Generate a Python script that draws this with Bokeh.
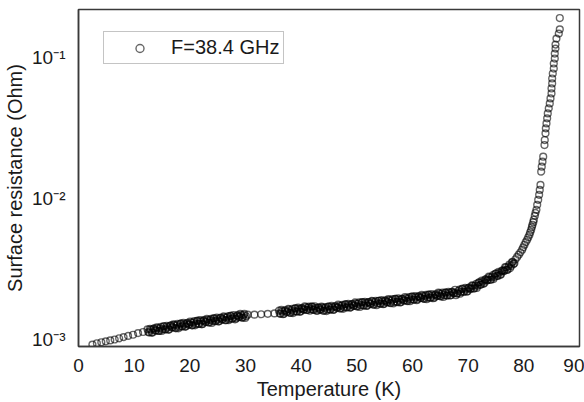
from bokeh.plotting import figure
from bokeh.models import Legend, LegendItem, FixedTicker, ColumnDataSource, Range1d
from bokeh.embed import file_html
from bokeh.resources import INLINE

# ---- data ----
# sparse open circles at lowest temperatures
low_T_K = [2.5, 3.3, 4.1, 4.9, 5.7, 6.5, 7.3, 8.1, 8.9, 9.8, 10.7, 11.6]
low_R_mOhm = [0.92, 0.94, 0.955, 0.97, 0.985, 1.00, 1.02, 1.04, 1.06, 1.08, 1.11, 1.13]

# dense band 12-30 K (two interleaved sweeps)
band1_T_K = [12.4, 12.7, 13.0, 13.3, 13.6, 13.9, 14.2, 14.5, 14.8, 15.1, 15.4, 15.7,
             16.0, 16.3, 16.6, 16.9, 17.2, 17.5, 17.8, 18.1, 18.4, 18.7, 19.0, 19.3,
             19.6, 19.9, 20.2, 20.5, 20.8, 21.1, 21.4, 21.7, 22.0, 22.3, 22.6, 22.9,
             23.2, 23.5, 23.8, 24.1, 24.4, 24.7, 25.0, 25.3, 25.6, 25.9, 26.2, 26.5,
             26.8, 27.1, 27.4, 27.7, 28.0, 28.3, 28.6, 28.9, 29.2, 29.5, 29.8, 30.1]
band1_R_mOhm = [1.18, 1.12, 1.17, 1.12, 1.20, 1.16, 1.21, 1.15, 1.23, 1.18,
                1.24, 1.18, 1.22, 1.18, 1.26, 1.22, 1.27, 1.20, 1.29, 1.23,
                1.30, 1.24, 1.28, 1.24, 1.31, 1.28, 1.32, 1.26, 1.35, 1.29,
                1.36, 1.29, 1.34, 1.29, 1.37, 1.33, 1.38, 1.32, 1.40, 1.35,
                1.41, 1.35, 1.39, 1.35, 1.43, 1.39, 1.44, 1.37, 1.46, 1.40,
                1.47, 1.41, 1.45, 1.41, 1.48, 1.45, 1.49, 1.43, 1.52, 1.46]
band1b_T_K = [12.55, 12.85, 13.15, 13.45, 13.75, 14.05, 14.35, 14.65, 14.95, 15.25,
              15.55, 15.85, 16.15, 16.45, 16.75, 17.05, 17.35, 17.65, 17.95, 18.25,
              18.55, 18.85, 19.15, 19.45, 19.75, 20.05, 20.35, 20.65, 20.95, 21.25,
              21.55, 21.85, 22.15, 22.45, 22.75, 23.05, 23.35, 23.65, 23.95, 24.25,
              24.55, 24.85, 25.15, 25.45, 25.75, 26.05, 26.35, 26.65, 26.95, 27.25,
              27.55, 27.85, 28.15, 28.45, 28.75, 29.05, 29.35, 29.65, 29.95]
band1b_R_mOhm = [1.13, 1.19, 1.12, 1.19, 1.16, 1.22, 1.15, 1.20, 1.15, 1.24,
                 1.18, 1.25, 1.17, 1.25, 1.22, 1.28, 1.21, 1.26, 1.20, 1.29,
                 1.24, 1.31, 1.23, 1.30, 1.27, 1.34, 1.26, 1.32, 1.26, 1.35,
                 1.29, 1.37, 1.28, 1.36, 1.33, 1.40, 1.32, 1.37, 1.31, 1.41,
                 1.35, 1.43, 1.34, 1.42, 1.39, 1.46, 1.37, 1.43, 1.37, 1.47,
                 1.40, 1.49, 1.39, 1.48, 1.44, 1.52, 1.43, 1.49, 1.42]

# sparse open circles 30-36 K
gap_T_K = [30.4, 31.6, 32.8, 34.0, 35.2]
gap_R_mOhm = [1.50, 1.50, 1.51, 1.52, 1.53]

# dense band 36-78 K (two interleaved sweeps)
band2_T_K = [36.0, 36.3, 36.6, 36.9, 37.2, 37.5, 37.8, 38.1, 38.4, 38.7, 39.0, 39.3,
             39.6, 39.9, 40.2, 40.5, 40.8, 41.1, 41.4, 41.7, 42.0, 42.3, 42.6, 42.9,
             43.2, 43.5, 43.8, 44.1, 44.4, 44.7, 45.0, 45.3, 45.6, 45.9, 46.2, 46.5,
             46.8, 47.1, 47.4, 47.7, 48.0, 48.3, 48.6, 48.9, 49.2, 49.5, 49.8, 50.1,
             50.4, 50.7, 51.0, 51.3, 51.6, 51.9, 52.2, 52.5, 52.8, 53.1, 53.4, 53.7,
             54.0, 54.3, 54.6, 54.9, 55.2, 55.5, 55.8, 56.1, 56.4, 56.7, 57.0, 57.3,
             57.6, 57.9, 58.2, 58.5, 58.8, 59.1, 59.4, 59.7, 60.0, 60.3, 60.6, 60.9,
             61.2, 61.5, 61.8, 62.1, 62.4, 62.7, 63.0, 63.3, 63.6, 63.9, 64.2, 64.5,
             64.8, 65.1, 65.4, 65.7, 66.0, 66.3, 66.6, 66.9, 67.2, 67.5, 67.8, 68.1,
             68.4, 68.7, 69.0, 69.3, 69.6, 69.9, 70.2, 70.5, 70.8, 71.1, 71.4, 71.7,
             72.0, 72.3, 72.6, 72.9, 73.2, 73.5, 73.8, 74.1, 74.4, 74.7, 75.0, 75.3,
             75.6, 75.9, 76.2, 76.5, 76.8, 77.1, 77.4, 77.7, 78.0, 78.3]
band2_R_mOhm = [1.60, 1.52, 1.58, 1.52, 1.61, 1.57, 1.63, 1.54, 1.65, 1.58,
                1.66, 1.58, 1.64, 1.58, 1.67, 1.63, 1.70, 1.62, 1.71, 1.64,
                1.71, 1.62, 1.67, 1.60, 1.68, 1.63, 1.69, 1.60, 1.70, 1.63,
                1.71, 1.63, 1.69, 1.63, 1.72, 1.68, 1.74, 1.66, 1.76, 1.69,
                1.78, 1.69, 1.75, 1.69, 1.78, 1.74, 1.80, 1.71, 1.83, 1.75,
                1.84, 1.74, 1.81, 1.74, 1.84, 1.79, 1.86, 1.76, 1.88, 1.80,
                1.88, 1.79, 1.86, 1.79, 1.89, 1.84, 1.91, 1.81, 1.93, 1.85,
                1.94, 1.84, 1.91, 1.84, 1.94, 1.89, 1.97, 1.87, 2.00, 1.92,
                2.01, 1.91, 1.99, 1.92, 2.02, 1.97, 2.04, 1.94, 2.07, 1.98,
                2.08, 1.98, 2.05, 1.98, 2.09, 2.04, 2.12, 2.02, 2.15, 2.06,
                2.15, 2.05, 2.14, 2.06, 2.18, 2.13, 2.06, 2.12, 2.26, 2.17,
                2.29, 2.18, 2.27, 2.20, 2.33, 2.29, 2.40, 2.30, 2.48, 2.40,
                2.54, 2.45, 2.57, 2.51, 2.68, 2.63, 2.76, 2.65, 2.86, 2.77,
                2.94, 2.82, 2.97, 2.90, 3.10, 3.07, 3.24, 3.13, 3.40, 3.32,
                3.55, 3.46]
band2b_T_K = [36.15, 36.45, 36.75, 37.05, 37.35, 37.65, 37.95, 38.25, 38.55, 38.85, 39.15, 39.45,
              39.75, 40.05, 40.35, 40.65, 40.95, 41.25, 41.55, 41.85, 42.15, 42.45, 42.75, 43.05,
              43.35, 43.65, 43.95, 44.25, 44.55, 44.85, 45.15, 45.45, 45.75, 46.05, 46.35, 46.65,
              46.95, 47.25, 47.55, 47.85, 48.15, 48.45, 48.75, 49.05, 49.35, 49.65, 49.95, 50.25,
              50.55, 50.85, 51.15, 51.45, 51.75, 52.05, 52.35, 52.65, 52.95, 53.25, 53.55, 53.85,
              54.15, 54.45, 54.75, 55.05, 55.35, 55.65, 55.95, 56.25, 56.55, 56.85, 57.15, 57.45,
              57.75, 58.05, 58.35, 58.65, 58.95, 59.25, 59.55, 59.85, 60.15, 60.45, 60.75, 61.05,
              61.35, 61.65, 61.95, 62.25, 62.55, 62.85, 63.15, 63.45, 63.75, 64.05, 64.35, 64.65,
              64.95, 65.25, 65.55, 65.85, 66.15, 66.45, 66.75, 67.05, 67.35, 67.65, 67.95, 68.25,
              68.55, 68.85, 69.15, 69.45, 69.75, 70.05, 70.35, 70.65, 70.95, 71.25, 71.55, 71.85,
              72.15, 72.45, 72.75, 73.05, 73.35, 73.65, 73.95, 74.25, 74.55, 74.85, 75.15, 75.45,
              75.75, 76.05, 76.35, 76.65, 76.95, 77.25, 77.55, 77.85, 78.15]
band2b_R_mOhm = [1.53, 1.62, 1.51, 1.60, 1.56, 1.65, 1.55, 1.61, 1.54, 1.66,
                 1.58, 1.68, 1.57, 1.66, 1.63, 1.72, 1.62, 1.68, 1.60, 1.71,
                 1.63, 1.72, 1.60, 1.68, 1.63, 1.71, 1.60, 1.67, 1.59, 1.71,
                 1.63, 1.73, 1.62, 1.72, 1.68, 1.77, 1.66, 1.73, 1.65, 1.77,
                 1.69, 1.79, 1.68, 1.78, 1.73, 1.83, 1.72, 1.79, 1.70, 1.83,
                 1.75, 1.85, 1.73, 1.84, 1.79, 1.88, 1.77, 1.84, 1.75, 1.88,
                 1.80, 1.90, 1.78, 1.89, 1.84, 1.93, 1.82, 1.89, 1.80, 1.94,
                 1.85, 1.96, 1.83, 1.94, 1.89, 2.00, 1.88, 1.95, 1.87, 2.01,
                 1.92, 2.03, 1.90, 2.02, 1.97, 2.07, 1.95, 2.03, 1.93, 2.08,
                 1.98, 2.10, 1.96, 2.08, 2.03, 2.15, 2.03, 2.10, 2.00, 2.15,
                 2.05, 2.18, 2.05, 2.18, 2.13, 2.25, 2.12, 2.21, 2.11, 2.28,
                 2.18, 2.32, 2.18, 2.32, 2.28, 2.42, 2.30, 2.41, 2.32, 2.53,
                 2.44, 2.62, 2.48, 2.66, 2.62, 2.79, 2.65, 2.78, 2.68, 2.92,
                 2.82, 3.02, 2.86, 3.07, 3.04, 3.26, 3.11, 3.30, 3.20, 3.52,
                 3.43]

# steep rise near the transition
steep_T_K = [78.5, 78.8, 79.09, 79.4, 79.7, 79.9, 80.11, 80.35, 80.6, 80.8, 81.01, 81.15,
             81.32, 81.45, 81.55, 81.7, 81.79, 81.97, 82.1, 82.27, 82.4, 82.58, 82.75, 82.86,
             82.99, 83.12, 83.22, 83.35, 83.48, 83.71, 83.76, 83.89, 83.95, 84.07, 84.19, 84.3,
             84.48, 84.66, 84.79, 84.97, 84.97, 85.09, 85.09, 85.2, 85.38, 85.38, 85.56, 85.56,
             85.69, 85.69, 85.86, 86.28, 86.46, 86.46]
steep_R_mOhm = [3.70, 3.85, 3.99, 4.15, 4.33, 4.50, 4.69, 4.90, 5.09, 5.30, 5.52, 5.75,
                5.99, 6.25, 6.50, 6.78, 7.05, 7.52, 7.90, 8.29, 9.00, 9.76, 10.59, 11.48,
                12.46, 15.47, 16.78, 18.20, 19.74, 23.88, 25.91, 28.9, 31.35, 34.0, 36.9, 40.0,
                43.4, 47.1, 51.1, 55.4, 60.1, 65.2, 70.7, 76.7, 83.2, 90.3, 97.9, 106.2,
                115.2, 122.9, 135.6, 147.1, 157.7, 189.6]

y_ticks = [0.001, 0.01, 0.1]
y_tick_labels = ["10\u207b\u00b3", "10\u207b\u00b2", "10\u207b\u00b9"]
x_ticks = [0, 10, 20, 30, 40, 50, 60, 70, 80, 90]

legend_label = "F=38.4 GHz"
x_title = "Temperature (K)"
y_title = "Surface resistance (Ohm)"

# ---- assemble ----
T_all = low_T_K + band1_T_K + band1b_T_K + gap_T_K + band2_T_K + band2b_T_K + steep_T_K
R_all_mOhm = (low_R_mOhm + band1_R_mOhm + band1b_R_mOhm + gap_R_mOhm
              + band2_R_mOhm + band2b_R_mOhm + steep_R_mOhm)
R_all = [r * 1e-3 for r in R_all_mOhm]
src = ColumnDataSource(data=dict(T=T_all, R=R_all))

FONT = "Liberation Sans"
DARK = "#3a3a3a"

p = figure(width=584, height=402, y_axis_type="log",
           x_range=Range1d(0, 90), y_range=Range1d(8.92e-4, 0.218),
           output_backend="svg", toolbar_location=None,
           min_border_left=78, min_border_right=5, min_border_top=9, min_border_bottom=55)
p.background_fill_color = "white"
p.border_fill_color = "white"
p.grid.visible = False
p.outline_line_color = DARK
p.outline_line_width = 1.5

r = p.scatter("T", "R", source=src, marker="circle", size=6.8,
              fill_color=None, line_color="#000000", line_alpha=0.6, line_width=1.4)

for ax in (p.xaxis[0], p.yaxis[0]):
    ax.axis_line_color = DARK
    ax.axis_line_width = 1.5
    ax.major_tick_line_color = None
    ax.minor_tick_line_color = None
    ax.major_label_text_font = FONT
    ax.major_label_text_font_size = "19px"
    ax.major_label_text_color = "#1a1a1a"
    ax.axis_label_text_font = FONT
    ax.axis_label_text_font_size = "20px"
    ax.axis_label_text_font_style = "normal"
    ax.axis_label_text_color = "#1a1a1a"

p.xaxis[0].ticker = FixedTicker(ticks=x_ticks)
p.xaxis[0].axis_label = x_title
p.xaxis[0].major_label_standoff = 6
p.xaxis[0].axis_label_standoff = 3

p.yaxis[0].ticker = FixedTicker(ticks=y_ticks)
p.yaxis[0].major_label_overrides = {t: lab for t, lab in zip(y_ticks, y_tick_labels)}
p.yaxis[0].axis_label = y_title
p.yaxis[0].major_label_standoff = 7
p.yaxis[0].axis_label_standoff = 3

legend = Legend(items=[LegendItem(label=legend_label, renderers=[r])],
                location=(25, 282), padding=4, spacing=0, margin=0,
                glyph_width=63, glyph_height=20, label_standoff=0,
                label_text_font=FONT, label_text_font_size="20px",
                label_text_color="#1a1a1a",
                border_line_color="#8a8a8a", border_line_width=1.5,
                background_fill_color="white", background_fill_alpha=1.0)
p.add_layout(legend)

open("out.html", "w").write(file_html(p, INLINE))
